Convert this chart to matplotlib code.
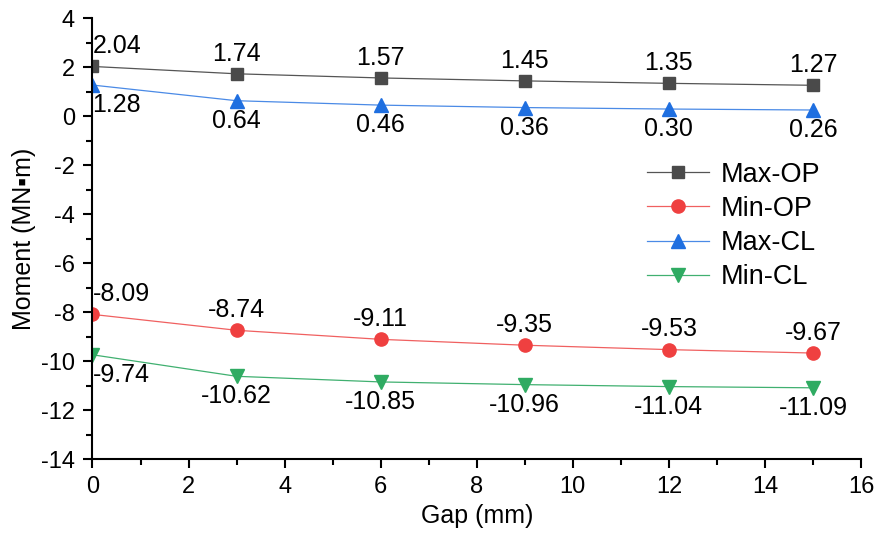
import matplotlib
matplotlib.use("Agg")
import matplotlib.pyplot as plt
from matplotlib.ticker import MultipleLocator

plt.rcParams['font.family'] = ['Liberation Sans', 'DejaVu Sans']
plt.rcParams['axes.unicode_minus'] = False

gap = [0, 3, 6, 9, 12, 15]
max_op = [2.04, 1.74, 1.57, 1.45, 1.35, 1.27]
min_op = [-8.09, -8.74, -9.11, -9.35, -9.53, -9.67]
max_cl = [1.28, 0.64, 0.46, 0.36, 0.30, 0.26]
min_cl = [-9.74, -10.62, -10.85, -10.96, -11.04, -11.09]

fig = plt.figure(figsize=(8.84, 5.34), dpi=100)
ax = fig.add_axes([0.1046, 0.1404, 0.8694, 0.8250])

series = [
    ("Max-OP", max_op, "#4a4a4a", "#555555", "s", 8.5, 1),
    ("Min-OP", min_op, "#ef4040", "#f06060", "o", 9.5, 1),
    ("Max-CL", max_cl, "#1f6fe0", "#4a8ae6", "^", 10, -1),
    ("Min-CL", min_cl, "#2fab62", "#40b070", "v", 10, -1),
]

for name, vals, mcol, lcol, mk, ms, side in series:
    ax.plot(gap, vals, color=lcol, lw=0.9, marker=mk, markersize=ms,
            markerfacecolor=mcol, markeredgecolor=mcol, label=name)
    for i, (x, y) in enumerate(zip(gap, vals)):
        txt = "%.2f" % y
        ha = "left" if i == 0 else "center"
        ax.annotate(txt, (x, y), xytext=(0, 14.5 * side), textcoords="offset points",
                    ha=ha, va="center", fontsize=18)

ax.set_xlim(0, 16)
ax.set_ylim(-14, 4)
ax.xaxis.set_major_locator(MultipleLocator(2))
ax.xaxis.set_minor_locator(MultipleLocator(1))
ax.yaxis.set_major_locator(MultipleLocator(2))
ax.yaxis.set_minor_locator(MultipleLocator(1))
ax.spines['top'].set_visible(False)
ax.spines['right'].set_visible(False)
for s in ['left', 'bottom']:
    ax.spines[s].set_linewidth(1.5)
ax.tick_params(which='major', direction='out', length=6.5, width=1.5, labelsize=17, pad=6)
ax.tick_params(which='minor', direction='out', length=4, width=1.5)

ax.set_xlabel("Gap (mm)", fontsize=18, labelpad=4)
ax.set_ylabel("Moment (MN▪m)", fontsize=18, labelpad=4)

ax.legend(loc="upper left", bbox_to_anchor=(0.69, 0.73), frameon=False,
          fontsize=19.5, handlelength=2.3, labelspacing=0.3, handletextpad=0.4)

fig.savefig("out.png", dpi=100)
